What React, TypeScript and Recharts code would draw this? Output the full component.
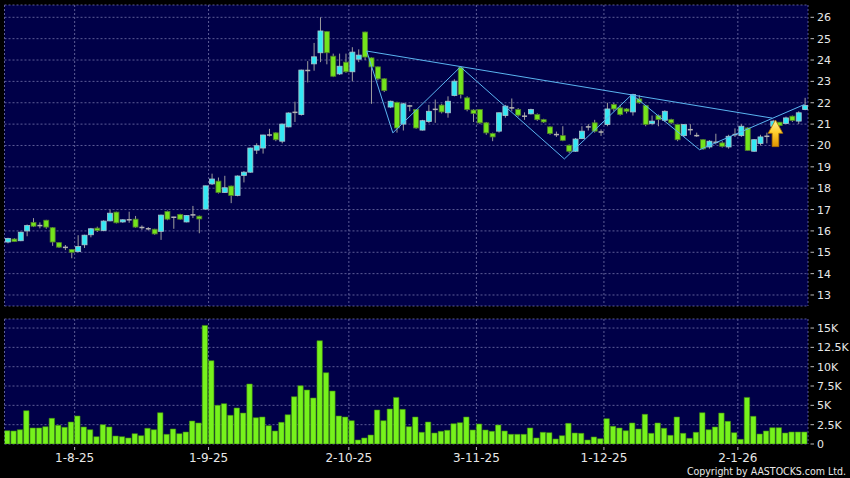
import { ComposedChart, Bar, XAxis, YAxis, CartesianGrid, ReferenceLine, ReferenceDot } from "recharts";

// daily candles, 17-7-25 .. 16-1-26
const open = [
  15.48, 15.62, 15.54, 16.0, 16.4, 16.26, 16.5, 16.15, 15.45, 15.24,
  15.13, 15.03, 15.35, 15.82, 16.13, 16.02, 16.47, 16.88, 16.42, 16.53,
  16.55, 16.17, 16.11, 16.08, 15.98, 16.91, 16.65, 16.77, 16.42, 16.76,
  16.69, 17.02, 18.2, 18.33, 17.8, 18.1, 17.66, 18.6, 18.75, 19.78,
  19.88, 20.5, 20.59, 20.2, 20.87, 21.56, 21.45, 23.52, 23.82, 24.34,
  25.33, 24.18, 23.35, 23.9, 23.45, 24.04, 25.31, 24.1, 23.68, 23.12,
  21.8, 22.02, 21.0, 21.86, 21.68, 20.72, 21.12, 21.7, 21.89, 21.53,
  22.34, 23.64, 22.23, 21.66, 21.68, 21.06, 20.56, 20.67, 21.4, 21.77,
  21.68, 21.38, 21.48, 21.45, 21.21, 20.87, 20.52, 20.46, 20.01, 19.73,
  20.32, 20.88, 21.06, 20.6, 20.98, 21.92, 21.76, 21.71, 21.57, 22.18,
  21.87, 21.03, 21.4, 21.18, 21.21, 20.98, 20.46, 20.75, 20.47, 20.27,
  19.93, 20.16, 20.12, 19.93, 20.52, 20.46, 20.82, 19.73, 20.09, 20.44,
  20.9, 21.09, 21.03, 21.37, 21.14, 21.68,
];
const close = [
  15.65, 15.5, 15.94, 16.25, 16.22, 16.24, 16.18, 15.48, 15.24, 15.22,
  15.0, 15.27, 15.8, 16.1, 16.02, 16.46, 16.83, 16.38, 16.52, 16.51,
  16.18, 16.15, 16.09, 15.86, 16.74, 16.55, 16.63, 16.55, 16.72, 16.74,
  16.56, 18.11, 18.43, 17.8, 18.02, 17.66, 18.57, 18.75, 19.88, 19.99,
  20.49, 20.48, 20.27, 21.0, 21.52, 21.54, 23.53, 23.5, 24.15, 25.36,
  24.34, 23.24, 23.71, 23.45, 24.37, 24.23, 24.14, 23.68, 23.12, 22.57,
  22.07, 20.82, 21.95, 21.84, 20.82, 21.16, 21.6, 21.68, 21.57, 22.07,
  23.01, 22.39, 21.68, 21.5, 21.06, 20.59, 20.4, 21.53, 21.84, 21.75,
  21.42, 21.36, 21.68, 21.21, 21.1, 20.56, 20.5, 20.24, 19.73, 20.3,
  20.67, 20.86, 20.67, 20.66, 21.71, 21.71, 21.45, 21.6, 22.39, 22.0,
  20.98, 21.14, 21.21, 21.6, 21.06, 20.27, 20.98, 20.73, 20.45, 19.84,
  20.2, 20.14, 19.96, 20.43, 20.5, 20.9, 19.77, 20.27, 20.4, 20.42,
  21.14, 20.93, 21.29, 21.17, 21.53, 21.87,
];
const high = [
  15.68, 15.66, 15.96, 16.3, 16.6, 16.4, 16.52, 16.18, 15.48, 15.34,
  15.15, 15.8, 15.82, 16.14, 16.2, 16.5, 17.0, 16.9, 16.55, 16.9,
  16.7, 16.26, 16.18, 16.1, 16.76, 16.95, 16.66, 16.8, 16.74, 17.17,
  16.72, 18.12, 18.68, 18.5, 18.58, 18.12, 18.6, 18.8, 19.9, 20.1,
  20.5, 20.78, 20.62, 21.02, 21.55, 22.05, 23.55, 23.95, 24.8, 26.0,
  25.36, 24.3, 24.3, 24.3, 24.6, 24.5, 25.33, 24.12, 23.7, 23.15,
  22.1, 22.05, 22.0, 21.9, 21.7, 21.2, 21.9, 22.15, 21.95, 22.3,
  23.1, 23.7, 22.3, 21.7, 21.7, 21.1, 20.6, 21.55, 21.9, 22.2,
  21.75, 21.55, 21.72, 21.5, 21.25, 20.9, 20.65, 20.9, 20.05, 20.35,
  20.9, 21.0, 21.2, 20.75, 22.0, 22.0, 21.9, 21.75, 22.42, 22.35,
  21.9, 21.4, 21.45, 21.65, 21.25, 21.0, 21.0, 21.0, 20.6, 20.3,
  20.25, 20.55, 20.2, 20.5, 20.8, 21.0, 20.85, 20.3, 20.5, 20.6,
  21.2, 21.1, 21.35, 21.4, 21.6, 22.23,
];
const low = [
  15.42, 15.48, 15.52, 15.75, 16.18, 16.12, 16.1, 15.3, 15.2, 15.1,
  14.72, 15.0, 15.2, 15.7, 15.95, 15.98, 16.45, 16.35, 16.38, 16.38,
  16.15, 16.05, 16.02, 15.82, 15.58, 16.5, 16.1, 16.52, 16.4, 16.6,
  15.89, 17.0, 18.15, 17.75, 17.78, 17.3, 17.62, 18.27, 18.72, 19.6,
  19.62, 20.42, 20.2, 20.1, 20.85, 21.1, 21.4, 22.95, 23.5, 23.9,
  23.8, 23.2, 23.3, 23.4, 23.0, 23.9, 24.0, 21.95, 23.05, 22.5,
  21.75, 20.6, 20.7, 21.6, 20.78, 20.7, 21.05, 21.06, 21.5, 21.3,
  22.3, 22.2, 21.6, 21.1, 21.0, 20.5, 20.2, 20.6, 21.3, 21.6,
  21.35, 21.2, 21.45, 21.15, 21.05, 20.5, 20.4, 20.2, 19.65, 19.7,
  20.3, 20.7, 20.6, 20.45, 20.9, 21.6, 21.4, 21.5, 21.4, 21.95,
  20.9, 20.95, 20.9, 21.1, 21.0, 20.2, 20.4, 20.5, 20.4, 19.8,
  19.85, 20.05, 19.9, 19.85, 20.4, 20.4, 19.75, 19.7, 20.0, 20.1,
  20.85, 20.9, 21.0, 21.1, 21.0, 21.65,
];
// volume in thousands
const volume = [
  1.72, 1.68, 1.85, 4.31, 2.07, 2.07, 2.24, 3.32, 2.41, 2.16,
  2.84, 3.62, 2.2, 1.85, 0.95, 2.5, 2.2, 1.03, 0.95, 0.78,
  1.34, 1.08, 2.03, 1.85, 4.05, 1.25, 1.94, 1.34, 1.55, 2.97,
  2.72, 15.34, 10.78, 5.0, 5.22, 3.71, 4.66, 4.0, 7.76, 3.4,
  3.49, 2.37, 1.68, 2.8, 3.79, 6.12, 7.54, 6.98, 5.95, 13.36,
  9.22, 6.85, 3.62, 3.49, 3.02, 0.52, 0.78, 1.16, 4.4, 3.02,
  4.53, 6.03, 4.48, 2.24, 3.49, 1.51, 2.84, 1.42, 1.64, 1.77,
  2.63, 2.76, 3.49, 1.81, 2.59, 1.81, 1.64, 2.46, 1.68, 1.25,
  1.25, 1.25, 2.07, 0.78, 1.51, 1.47, 0.65, 1.08, 2.67, 1.42,
  1.38, 0.52, 0.91, 0.69, 3.28, 2.28, 2.07, 1.72, 2.72, 1.94,
  3.84, 1.38, 2.72, 2.03, 1.12, 3.49, 1.38, 0.73, 1.51, 4.05,
  1.85, 2.2, 4.0, 2.93, 1.47, 0.6, 6.03, 3.58, 1.29, 1.68,
  2.11, 2.11, 1.42, 1.55, 1.55, 1.55,
];

// first trading day of each month (candle index) and its label
const monthStart = [11, 32, 54, 74, 94, 115];
const monthLabels = ["1-8-25", "1-9-25", "2-10-25", "3-11-25", "1-12-25", "2-1-26"];
const priceTicks = [13, 14, 15, 16, 17, 18, 19, 20, 21, 22, 23, 24, 25, 26];
const volTicks = [0, 2.5, 5, 7.5, 10, 12.5, 15];

// drawn pattern lines (candle index, price)
const zigzag = [
  { i: 56.3, v: 24.42 },
  { i: 60.4, v: 20.59 },
  { i: 71.0, v: 23.68 },
  { i: 87.3, v: 19.37 },
  { i: 97.9, v: 22.39 },
  { i: 108.5, v: 19.8 },
  { i: 124.95, v: 21.92 },
];
const resistance = [
  { i: 56.3, v: 24.42 },
  { i: 119.9, v: 21.28 },
];
const arrowAt = { i: 120.4, v: 20.57 };

const rows = open.map((o, k) => ({
  i: k,
  o,
  h: high[k],
  l: low[k],
  c: close[k],
  range: [low[k], high[k]],
  vol: volume[k],
}));

const xDomain = [-0.5, open.length - 0.5];
const xTicks = monthStart.map((i) => i - 0.5);

const BG = "#000048";
const GRID = "#5c5c96";
const TEXT = "#e8e8e8";
const FONT = "'DejaVu Sans', Verdana, sans-serif";

function Candle(props: any) {
  const { x, y, width, height, payload } = props;
  const { o, h, l, c } = payload;
  const top = Math.min(y, y + height);
  const span = Math.abs(height);
  const ratio = h > l ? span / (h - l) : 0;
  const yOf = (v: number) => top + (h - v) * ratio;
  const cx = x + width / 2;
  const bTop = yOf(Math.max(o, c));
  const bBot = yOf(Math.min(o, c));
  const doji = bBot - bTop < 1.5;
  let body;
  if (doji) {
    body = <rect x={x} y={(bTop + bBot) / 2 - 0.75} width={width} height={1.5} fill="#b4b4b4" />;
  } else if (c > o) {
    body = <rect x={x} y={bTop} width={width} height={bBot - bTop} fill="#33e8f4" stroke="#a8c4cc" strokeWidth={0.8} />;
  } else {
    body = <rect x={x} y={bTop} width={width} height={bBot - bTop} fill="#74e41c" stroke="#4f7f2a" strokeWidth={0.8} />;
  }
  return (
    <g>
      <line x1={cx} x2={cx} y1={top} y2={top + span} stroke="#9c9c9c" strokeWidth={1} />
      {body}
    </g>
  );
}

function PriceTick(props: any) {
  const { x, y, payload } = props;
  return (
    <g>
      <line x1={x + 2.5} x2={x + 6} y1={y} y2={y} stroke="#bbbbbb" />
      <text x={x + 9} y={y + 4} fill={TEXT} fontSize={11} fontFamily={FONT}>
        {payload.value}
      </text>
    </g>
  );
}

function VolTick(props: any) {
  const { x, y, payload } = props;
  const v = payload.value;
  return (
    <g>
      <line x1={x + 2.5} x2={x + 6} y1={y} y2={y} stroke="#bbbbbb" />
      <text x={x + 9} y={y + 4} fill={TEXT} fontSize={11} fontFamily={FONT}>
        {v === 0 ? "0" : `${v}K`}
      </text>
    </g>
  );
}

function DateTick(props: any) {
  const { x, y, payload } = props;
  const label = monthLabels[xTicks.indexOf(payload.value)] ?? "";
  return (
    <g>
      <line x1={x} x2={x} y1={y + 3} y2={y + 6} stroke="#bbbbbb" />
      <text x={x} y={y + 18.3} fill={TEXT} fontSize={12} fontFamily={FONT} textAnchor="middle">
        {label}
      </text>
    </g>
  );
}

function UpArrow(props: any) {
  const { cx, cy } = props;
  const pts = [
    [cx, cy - 13.3],
    [cx + 7.3, cy],
    [cx + 3.3, cy],
    [cx + 3.3, cy + 13.3],
    [cx - 3.3, cy + 13.3],
    [cx - 3.3, cy],
    [cx - 7.3, cy],
  ]
    .map((p) => p.join(","))
    .join(" ");
  return (
    <g>
      <defs>
        <linearGradient id="arrowFill" x1="0" y1="0" x2="0" y2="1">
          <stop offset="0%" stopColor="#fff2a0" />
          <stop offset="45%" stopColor="#ffd030" />
          <stop offset="100%" stopColor="#e09400" />
        </linearGradient>
      </defs>
      <polygon points={pts} fill="url(#arrowFill)" stroke="#b87800" strokeWidth={0.8} />
    </g>
  );
}

export default function App() {
  return (
    <div style={{ position: "absolute", left: 0, top: 0, width: 850, height: 478, background: "#000", overflow: "hidden" }}>
      <div style={{ position: "absolute", left: 0, top: 0 }}>
        <ComposedChart width={850} height={310} data={rows} margin={{ top: 5, right: 0, bottom: 4, left: 4.5 }}>
          <CartesianGrid fill={BG} stroke={GRID} strokeDasharray="2 2" />
          <XAxis dataKey="i" type="number" domain={xDomain} ticks={xTicks} allowDataOverflow hide />
          <YAxis
            orientation="right"
            width={42}
            domain={[12.485, 26.576]}
            ticks={priceTicks}
            interval={0}
            allowDataOverflow
            axisLine={false}
            tickLine={false}
            tickSize={0}
            tickMargin={0}
            tick={<PriceTick />}
          />
          <Bar dataKey="range" barSize={5} shape={Candle} isAnimationActive={false} />
          <ReferenceLine
            segment={[
              { x: resistance[0].i, y: resistance[0].v },
              { x: resistance[1].i, y: resistance[1].v },
            ]}
            stroke="#5ab4f0"
            strokeWidth={1}
          />
          {zigzag.slice(1).map((p, k) => (
            <ReferenceLine
              key={k}
              segment={[
                { x: zigzag[k].i, y: zigzag[k].v },
                { x: p.i, y: p.v },
              ]}
              stroke="#5ab4f0"
              strokeWidth={1}
            />
          ))}
          <ReferenceDot x={arrowAt.i} y={arrowAt.v} shape={UpArrow} />
        </ComposedChart>
      </div>
      <div style={{ position: "absolute", left: 0, top: 312 }}>
        <ComposedChart width={850} height={166} data={rows} margin={{ top: 7, right: 0, bottom: 0, left: 4.5 }}>
          <CartesianGrid fill={BG} stroke={GRID} strokeDasharray="2 2" />
          <XAxis
            dataKey="i"
            type="number"
            domain={xDomain}
            ticks={xTicks}
            allowDataOverflow
            height={34}
            axisLine={false}
            tickLine={false}
            tickSize={0}
            tickMargin={0}
            tick={<DateTick />}
          />
          <YAxis
            orientation="right"
            width={42}
            domain={[0, 16.17]}
            ticks={volTicks}
            interval={0}
            allowDataOverflow
            axisLine={false}
            tickLine={false}
            tickSize={0}
            tickMargin={0}
            tick={<VolTick />}
          />
          <Bar dataKey="vol" barSize={5.4} fill="#76f21c" stroke="#3f8a10" strokeWidth={0.6} isAnimationActive={false} />
        </ComposedChart>
      </div>
      <svg width={850} height={478} style={{ position: "absolute", left: 0, top: 0, pointerEvents: "none" }}>
        <text
          x={846}
          y={474.5}
          textAnchor="end"
          fill={TEXT}
          fontSize={10.5}
          fontFamily="'DejaVu Sans Condensed', 'Liberation Sans', sans-serif"
        >
          Copyright by AASTOCKS.com Ltd.
        </text>
      </svg>
    </div>
  );
}
